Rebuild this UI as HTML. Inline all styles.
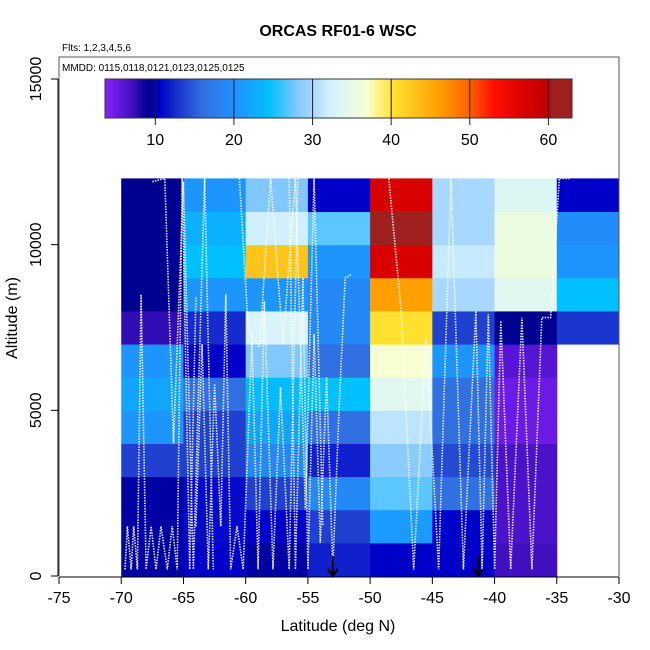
<!DOCTYPE html>
<html><head><meta charset="utf-8"><style>
body{margin:0;background:#fff}
svg{display:block;font-family:"Liberation Sans",sans-serif}
</style></head><body>
<svg id="c" width="650" height="650" viewBox="0 0 650 650"></svg>
<script>
// ---- data ----
const latEdges = [-70,-65,-60,-55,-50,-45,-40,-35];
const altStep = 1000;
const cellValues = [
 [9.5,10.5,9.5,12,10.5,10.5,7,null],
 [9.5,11,10.5,13.5,21,10.5,6.5,null],
 [9.5,11,13.5,19,27,16,6.5,null],
 [13.5,13.5,19,12,28.5,14,6.5,null],
 [20.5,13.5,22,16,31,16,5,null],
 [22,16,24,24.5,34,16,5,null],
 [20.5,10.5,28,16,37,20.5,6,null],
 [7.5,12.5,33,19,40.5,13.5,9,13],
 [9,20.5,20.5,19,46,30,34,24.5],
 [9,24.5,43,20.5,57,31.5,35.5,20.5],
 [9,23,32,27,62,30,35.5,19.5],
 [9,20.5,28,10.5,57,30,33.5,10.5]
];
const xTicks = [-75,-70,-65,-60,-55,-50,-45,-40,-35,-30];
const yTicks = [0,5000,10000,15000];
const cbTicks = [10,20,30,40,50,60];
const arrowLats = [-53,-41.3];
const track1Lat = [-69.7,-69.5,-69.2,-69,-68.7,-68.4,-68,-67.6,-67.2,-66.8,-66.3,-65.9,-65.5,-65.1,-64.5,-64];
const track1Alt = [200,1500,200,1500,200,8500,200,1500,200,1500,200,1500,200,12000,200,8400];
const track2Lat = [-64,-63.5,-63,-62.5,-62,-61.6,-61.2,-60.7,-60.2,-59.5,-59,-58.5,-57.8,-57.2,-56.5,-55.8];
const track2Alt = [1500,7000,200,5800,1500,8500,200,1500,200,7200,200,8300,200,5700,200,12000];
const track3Lat = [-56.5,-56,-55.4,-55,-54.5,-54,-53.5,-53,-52.5,-52,-51.5];
const track3Alt = [12000,200,9000,200,7300,1000,6000,200,5000,9000,9100];
const track4Lat = [-48.5,-47.5,-46.5,-45.5,-44.5,-43.5,-42.5,-41.5,-41,-40.5,-40,-39.5,-38.7,-37.8,-37,-36.2,-35.5,-34.8,-34];
const track4Alt = [12000,8000,200,7200,200,12000,200,8000,200,7900,200,7700,200,7800,200,7800,7800,12000,12000];
const track5Lat = [-60.5,-59.8,-58.9,-58,-57,-56,-55.2,-54.5,-53.8];
const track5Alt = [12000,7500,6900,12000,7000,12000,2000,12000,1500];
const track6Lat = [-67.5,-66.5,-65.8,-65,-64.2,-63.3,-62.6];
const track6Alt = [11900,12000,4000,11900,200,12000,200];
const tracksLat = [track1Lat,track2Lat,track3Lat,track4Lat,track5Lat,track6Lat];
const tracksAlt = [track1Alt,track2Alt,track3Alt,track4Alt,track5Alt,track6Alt];
const cmapVals = [4,7,9,10.5,13.5,16,20,24.5,28,30,32,34,37,38.5,40.5,46,50,53,57,60,60.5,63];
const cmapCols = ['#8020f8','#4010c0','#000090','#0000c8','#2040d0','#3070e0','#2090ff','#00c0ff','#80c8ff','#a8d8ff','#d0f0ff','#e0f8f0','#f8ffd0','#fff080','#ffe030','#ffa000','#ff6000','#ff1000','#d80000','#c00000','#a02020','#a02020'];

// ---- scales ----
const X0=59,X1=619,Y0=576,Y1=79;
const xs = v => X0+(v+75)/45*(X1-X0);
const ys = v => Y0-v/15000*(Y0-Y1);
const CB0=105,CB1=572,CBV0=3.6,CBV1=63;
const cbx = v => CB0+(v-CBV0)/(CBV1-CBV0)*(CB1-CB0);
function hex(c){return [1,3,5].map(i=>parseInt(c.substr(i,2),16));}
function cmap(v){
  if(v<=cmapVals[0])return cmapCols[0];
  for(let i=1;i<cmapVals.length;i++){if(v<=cmapVals[i]){const t=(v-cmapVals[i-1])/(cmapVals[i]-cmapVals[i-1]);const a=hex(cmapCols[i-1]),b=hex(cmapCols[i]);return 'rgb('+a.map((x,k)=>Math.round(x+(b[k]-x)*t)).join(',')+')';}}
  return cmapCols[cmapCols.length-1];
}
const svg=document.getElementById('c');const NS='http://www.w3.org/2000/svg';
function mk(tag,attrs,parent,text){const e=document.createElementNS(NS,tag);for(const k in attrs)e.setAttribute(k,attrs[k]);if(text!==undefined)e.textContent=text;(parent||svg).appendChild(e);return e;}

const gH=mk('g',{});


cellValues.forEach((row,r)=>row.forEach((v,c)=>{
  if(v===null)return;
  const la=latEdges[c],lb=la+5;
  const rc=mk('rect',{x:xs(la),y:ys((r+1)*altStep),width:xs(lb)-xs(la)+0.5,height:ys(r*altStep)-ys((r+1)*altStep)+0.5,fill:cmap(v)},gH);
  
  
}));
const gT=mk('g',{});


tracksLat.forEach((la,i)=>{
  const pts=la.map((v,k)=>xs(v).toFixed(1)+','+ys(tracksAlt[i][k]).toFixed(1)).join(' ');
  const p=mk('polyline',{points:pts,fill:'none',stroke:'#fff','stroke-width':1.6,'stroke-dasharray':'1.5 1.2',opacity:0.9},gT);
  
  
});
arrowLats.forEach(l=>{
  const g=mk('g',{stroke:'#000','stroke-width':2,fill:'none'});
  
  
  const x=xs(l);
  mk('line',{x1:x,y1:556,x2:x,y2:576},g);
  mk('polyline',{points:(x-5)+',569 '+x+',576 '+(x+5)+',569'},g);
});
const fr=mk('path',{d:`M${X0},${Y0} V57 H${X1} V${Y0}`,fill:'none',stroke:'#555','stroke-width':1});


const gx=mk('g',{stroke:'#000','stroke-width':1});


mk('line',{x1:X0,y1:577,x2:X1,y2:577},gx);
xTicks.forEach(t=>{mk('line',{x1:xs(t),y1:577,x2:xs(t),y2:584},gx);
  const tx=mk('text',{x:xs(t),y:603,'text-anchor':'middle','font-size':16,stroke:'none',fill:'#000'},svg,String(t));
  
  });
const gy=mk('g',{stroke:'#000','stroke-width':1});


mk('line',{x1:58,y1:Y0,x2:58,y2:Y1},gy);
yTicks.forEach(t=>{mk('line',{x1:51,y1:ys(t),x2:58,y2:ys(t)},gy);
  const tx=mk('text',{x:0,y:0,transform:`translate(41,${ys(t)}) rotate(-90)`,'text-anchor':'middle','font-size':16,fill:'#000'},svg,String(t));
  
  });
const defs=mk('defs',{});
const lg=mk('linearGradient',{id:'cbg',x1:0,x2:1,y1:0,y2:0},defs);
cmapVals.forEach((v,i)=>mk('stop',{offset:Math.max(0,Math.min(1,(v-CBV0)/(CBV1-CBV0))),'stop-color':cmapCols[i]},lg));
const cbr=mk('rect',{x:CB0,y:79,width:CB1-CB0,height:39,fill:'url(#cbg)',stroke:'#333','stroke-width':1});


cbTicks.forEach(t=>{mk('line',{x1:cbx(t),y1:79,x2:cbx(t),y2:125,stroke:'#222','stroke-width':1});
  const tx=mk('text',{x:cbx(t),y:145,'text-anchor':'middle','font-size':16,fill:'#000'},svg,String(t));
  
  });
</script>
<div style="position:absolute;left:0;top:0;width:650px;height:650px;pointer-events:none">
<svg width="650" height="650" style="position:absolute;left:0;top:0">
<text x="338" y="36" text-anchor="middle" font-size="16" font-weight="bold" font-family="Liberation Sans, sans-serif">ORCAS RF01-6 WSC</text>
<text x="62" y="51" font-size="10" font-family="Liberation Sans, sans-serif">Flts: 1,2,3,4,5,6</text>
<text x="62" y="71" font-size="10" font-family="Liberation Sans, sans-serif">MMDD: 0115,0118,0121,0123,0125,0125</text>
<text x="338" y="631" text-anchor="middle" font-size="16" font-family="Liberation Sans, sans-serif">Latitude (deg N)</text>
<text transform="translate(17,318) rotate(-90)" text-anchor="middle" font-size="16" font-family="Liberation Sans, sans-serif">Altitude (m)</text>
</svg></div>
</body></html>
